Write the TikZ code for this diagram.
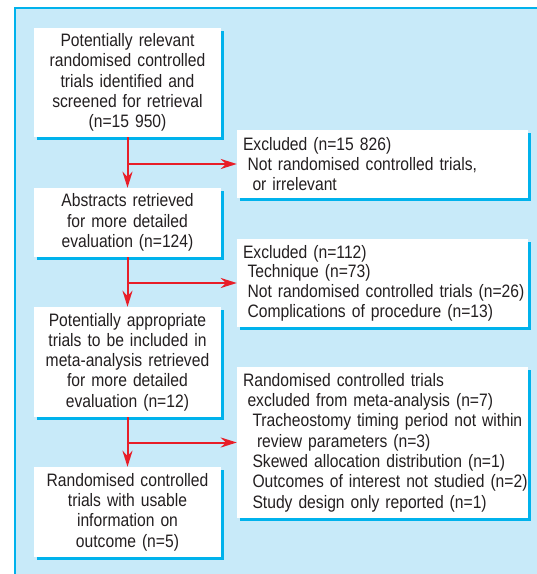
\documentclass[tikz,border=0pt]{standalone}
\usepackage{fontspec}
\setmainfont{Liberation Sans}[FakeStretch=0.87]
\usetikzlibrary{shadows,arrows.meta}
\definecolor{panelbg}{RGB}{200,234,249}
\definecolor{cyanb}{RGB}{0,178,236}
\definecolor{arrred}{RGB}{232,30,40}
\definecolor{txt}{RGB}{35,31,32}
\newcommand{\indA}{\hspace*{4.5pt}}
\newcommand{\indB}{\hspace*{9.5pt}}
\newcommand{\indC}{\hspace*{14pt}}
\newcommand{\oneline}[1]{\mbox{#1}}
\tikzset{
  boxbase/.style={fill=white, draw=none, inner ysep=0pt, text=txt,
    font=\fontsize{18}{20.3}\selectfont,
    drop shadow={shadow xshift=3pt,shadow yshift=-3pt,fill=cyanb,opacity=1}},
  leftbox/.style={boxbase, minimum width=187pt, text width=181pt, inner xsep=3pt, align=center},
  rightbox/.style={boxbase, minimum width=291pt, text width=279pt, inner xsep=6pt, align=left},
  flow/.style={draw=arrred, line width=2pt, -{Stealth[length=16pt,width=10pt,inset=5pt]}}
}
\begin{document}
\begin{tikzpicture}[x=1pt,y=-1pt]
\useasboundingbox (0,0) rectangle (537,574);
\fill[panelbg] (15,8) rectangle (537,574);
\draw[cyanb, line width=2pt] (15,574) -- (15,8) -- (537,8);

\node[leftbox, minimum height=109pt] (b1) at (127.5,82.5)
  {Potentially relevant\\ randomised controlled\\ trials identified and\\ screened for retrieval\\ (n=15 950)};
\node[leftbox, minimum height=69pt] (b2) at (127.5,222.5)
  {Abstracts retrieved\\ for more detailed\\ evaluation (n=124)};
\node[leftbox, minimum height=110pt] (b3) at (127.5,362)
  {Potentially appropriate\\ trials to be included in\\ meta-analysis retrieved\\ for more detailed\\ evaluation (n=12)};
\node[leftbox, minimum height=90pt] (b4) at (127.5,512)
  {Randomised controlled\\ trials with usable\\ information on\\ outcome (n=5)};

\node[rightbox, minimum height=68pt] (r1) at (382.5,164)
  {\oneline{Excluded (n=15 826)}\\ \oneline{\indA Not randomised controlled trials,}\\ \oneline{\indB or irrelevant}};
\node[rightbox, minimum height=88pt, font=\fontsize{18}{19.6}\selectfont] (r2) at (382.5,283)
  {\oneline{Excluded (n=112)}\\ \oneline{\indA Technique (n=73)}\\ \oneline{\indA Not randomised controlled trials (n=26)}\\ \oneline{\indA Complications of procedure (n=13)}};
\node[rightbox, minimum height=151pt] (r3) at (382.5,442.5)
  {\oneline{Randomised controlled trials}\\ \oneline{\indA excluded from meta-analysis (n=7)}\\ \oneline{\indB Tracheostomy timing period not within}\\ \oneline{\indC review parameters (n=3)}\\ \oneline{\indB Skewed allocation distribution (n=1)}\\ \oneline{\indB Outcomes of interest not studied (n=2)}\\ \oneline{\indB Study design only reported (n=1)}};

\draw[flow] (b1.south) -- (b2.north);
\draw[flow] (b1.south |- r1.west) -- (r1.west);
\draw[flow] (b2.south) -- (b3.north);
\draw[flow] (b2.south |- r2.west) -- (r2.west);
\draw[flow] (b3.south) -- (b4.north);
\draw[flow] (b3.south |- r3.west) -- (r3.west);
\end{tikzpicture}
\end{document}
